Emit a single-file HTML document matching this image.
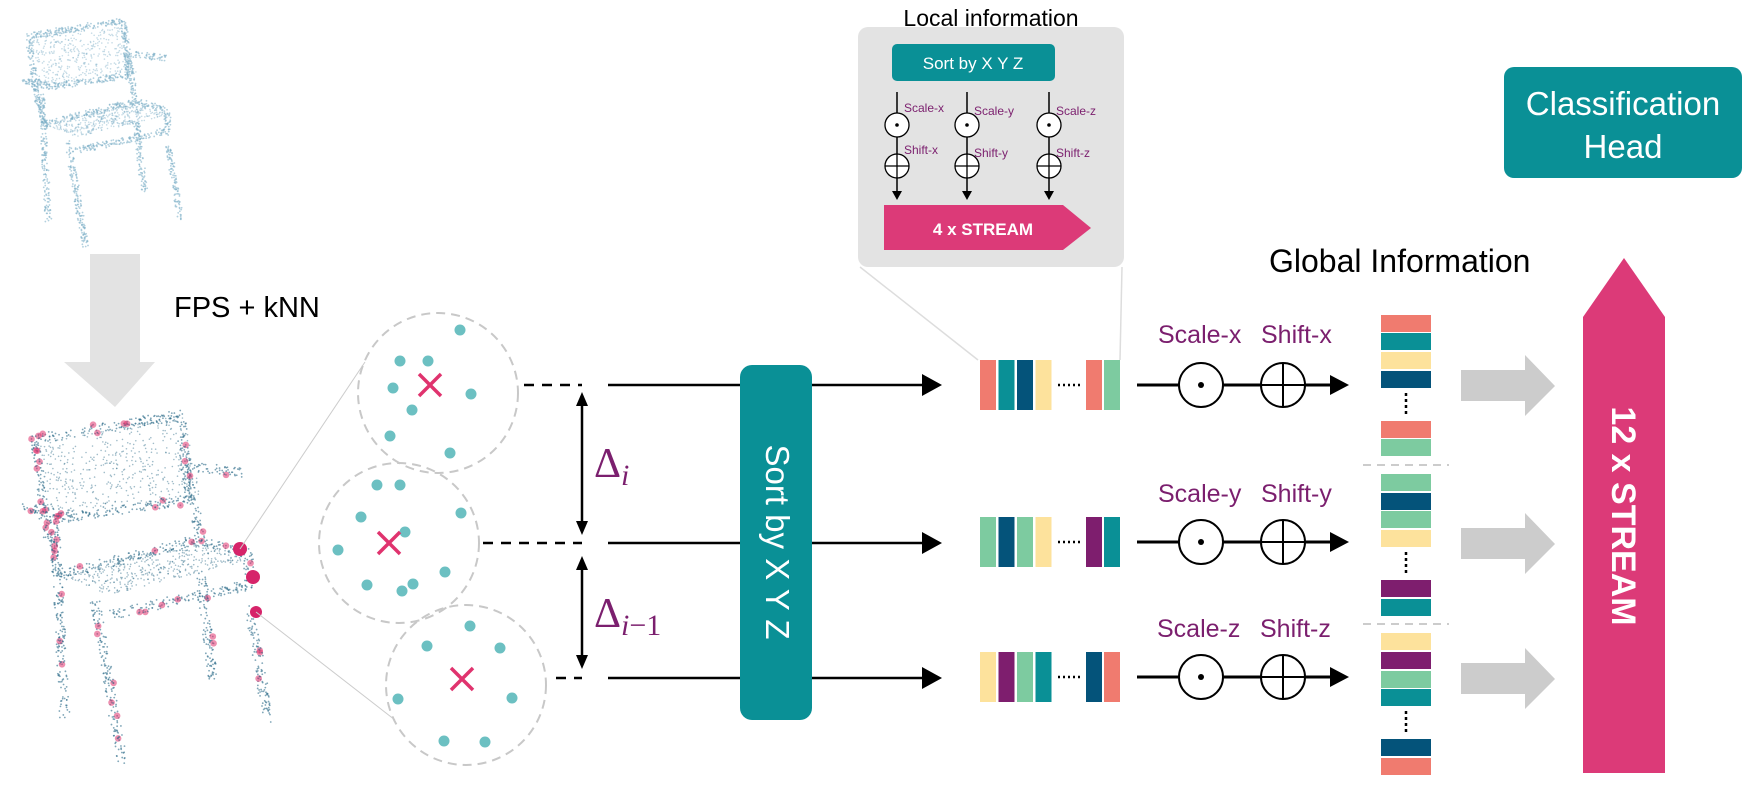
<!DOCTYPE html>
<html><head><meta charset="utf-8"><style>
html,body{margin:0;padding:0;background:#fff;}
svg{display:block;font-family:"Liberation Sans",sans-serif;}
</style></head><body>
<svg id="s" width="1762" height="796" viewBox="0 0 1762 796" xmlns="http://www.w3.org/2000/svg">
<g id="chairs"></g>
<polygon points="90,254 140,254 140,362 155,362 115,407 64,362 90,362" fill="#e3e3e3"/>
<text x="174" y="317" font-size="29" fill="#000">FPS + kNN</text>
<line x1="240" y1="549" x2="365" y2="362" stroke="#ccc" stroke-width="1"/>
<line x1="256" y1="612" x2="395" y2="720" stroke="#ccc" stroke-width="1"/>
<g fill="none" stroke="#c8c8c8" stroke-width="2" stroke-dasharray="9,6">
<circle cx="438" cy="393" r="80"/><circle cx="399" cy="543" r="80"/><circle cx="466" cy="685" r="80"/>
</g>
<g fill="#6cc0c2">
<circle cx="460" cy="330" r="5.5"/><circle cx="400" cy="361" r="5.5"/><circle cx="428" cy="361" r="5.5"/><circle cx="393" cy="388" r="5.5"/><circle cx="471" cy="394" r="5.5"/><circle cx="412" cy="410" r="5.5"/><circle cx="390" cy="436" r="5.5"/><circle cx="450" cy="453" r="5.5"/>
<circle cx="377" cy="485" r="5.5"/><circle cx="400" cy="485" r="5.5"/><circle cx="361" cy="517" r="5.5"/><circle cx="461" cy="513" r="5.5"/><circle cx="405" cy="532" r="5.5"/><circle cx="338" cy="550" r="5.5"/><circle cx="367" cy="585" r="5.5"/><circle cx="402" cy="591" r="5.5"/><circle cx="413" cy="584" r="5.5"/><circle cx="445" cy="572" r="5.5"/>
<circle cx="470" cy="626" r="5.5"/><circle cx="427" cy="646" r="5.5"/><circle cx="500" cy="648" r="5.5"/><circle cx="398" cy="699" r="5.5"/><circle cx="512" cy="698" r="5.5"/><circle cx="444" cy="741" r="5.5"/><circle cx="485" cy="742" r="5.5"/>
</g>
<g stroke="#e0336e" stroke-width="3.5">
<path d="M419,374 L441,396 M441,374 L419,396"/>
<path d="M378,532 L400,554 M400,532 L378,554"/>
<path d="M451,668 L473,690 M473,668 L451,690"/>
</g>
<g stroke="#000" stroke-width="2.5">
<line x1="524" y1="385" x2="582" y2="385" stroke-dasharray="10,8"/>
<line x1="483" y1="543" x2="582" y2="543" stroke-dasharray="10,8"/>
<line x1="556" y1="678" x2="582" y2="678" stroke-dasharray="10,8"/>
<line x1="608" y1="385" x2="925" y2="385"/>
<line x1="608" y1="543" x2="925" y2="543"/>
<line x1="608" y1="678" x2="925" y2="678"/>
<line x1="582" y1="404" x2="582" y2="523"/>
<line x1="582" y1="568" x2="582" y2="657"/>
</g>
<g fill="#000">
<polygon points="582,392 576,406 588,406"/><polygon points="582,535 576,521 588,521"/>
<polygon points="582,556 576,570 588,570"/><polygon points="582,669 576,655 588,655"/>
<polygon points="942,385 922,374 922,396"/><polygon points="942,543 922,532 922,554"/><polygon points="942,678 922,667 922,689"/>
</g>
<text x="594" y="477" font-size="42" fill="#7b1f6e" font-family="'Liberation Serif',serif">Δ<tspan font-size="30" font-style="italic" dy="8">i</tspan></text>
<text x="594" y="627" font-size="42" fill="#7b1f6e" font-family="'Liberation Serif',serif">Δ<tspan font-size="30" font-style="italic" dy="8">i</tspan><tspan font-size="30" dy="0">−1</tspan></text>
<rect x="740" y="365" width="72" height="355" rx="12" fill="#0a9096"/>
<text transform="translate(766,542) rotate(90)" font-size="33" fill="#fff" text-anchor="middle">Sort by X Y Z</text>
<line x1="860" y1="267" x2="978" y2="360" stroke="#ddd" stroke-width="1.5"/>
<line x1="1122" y1="267" x2="1120" y2="360" stroke="#ddd" stroke-width="1.5"/>
<rect x="858" y="27" width="266" height="240" rx="10" fill="#e3e3e3"/>
<text x="991" y="26" font-size="23" text-anchor="middle" fill="#000">Local information</text>
<rect x="892" y="44" width="163" height="37" rx="5" fill="#0a9096"/>
<text x="973" y="69" font-size="17" fill="#fff" text-anchor="middle">Sort by X Y Z</text>
<g id="mini"></g>
<polygon points="884,205 1063,205 1091,228 1063,250 884,250" fill="#dc3a78"/>
<text x="983" y="235" font-size="17" font-weight="bold" fill="#fff" text-anchor="middle">4 x STREAM</text>
<g id="tok"></g>
<text x="1269" y="272" font-size="32" fill="#000">Global Information</text>
<g fill="#7b1f6e" font-size="25">
<text x="1158" y="343">Scale-x</text><text x="1261" y="343">Shift-x</text>
<text x="1158" y="502">Scale-y</text><text x="1261" y="502">Shift-y</text>
<text x="1157" y="637">Scale-z</text><text x="1260" y="637">Shift-z</text>
</g>
<g fill="#cccccc">
<polygon points="1461,370 1525,370 1525,355 1555,386 1525,416 1525,401 1461,401"/>
<polygon points="1461,528 1525,528 1525,513 1555,544 1525,574 1525,559 1461,559"/>
<polygon points="1461,663 1525,663 1525,648 1555,679 1525,709 1525,694 1461,694"/>
</g>
<polygon points="1583,317 1624,258 1665,317 1665,773 1583,773" fill="#dc3a78"/>
<text transform="translate(1612,516) rotate(90)" font-size="34" font-weight="bold" fill="#fff" text-anchor="middle">12 x STREAM</text>
<rect x="1504" y="67" width="238" height="111" rx="10" fill="#0a9096"/>
<text x="1623" y="115" font-size="33" fill="#fff" text-anchor="middle">Classification</text>
<text x="1623" y="158" font-size="33" fill="#fff" text-anchor="middle">Head</text>
</svg>
<script>
var NS="http://www.w3.org/2000/svg";
function el(p,t,a){var e=document.createElementNS(NS,t);for(var k in a)e.setAttribute(k,a[k]);p.appendChild(e);return e;}
var C={s:'#f07b6f',t:'#0a9096',y:'#fde29c',n:'#04537a',g:'#7dcba0',p:'#7e1e6e'};
var tok=document.getElementById('tok');
var rows=[[360,'stny','sg'],[517,'gngy','pt'],[652,'ypgt','ns']];
rows.forEach(function(r){
  for(var i=0;i<4;i++) el(tok,'rect',{x:980+i*18.5,y:r[0],width:16,height:50,fill:C[r[1][i]]});
  for(var i=0;i<2;i++) el(tok,'rect',{x:1086+i*18,y:r[0],width:16,height:50,fill:C[r[2][i]]});
  var cy=r[0]+25;
  el(tok,'line',{x1:1058,y1:cy,x2:1082,y2:cy,stroke:'#000','stroke-width':2.5,'stroke-dasharray':'2,3'});
  el(tok,'line',{x1:1137,y1:cy,x2:1330,y2:cy,stroke:'#000','stroke-width':3});
  el(tok,'polygon',{points:'1349,'+cy+' 1330,'+(cy-10)+' 1330,'+(cy+10),fill:'#000'});
  el(tok,'circle',{cx:1201,cy:cy,r:22,fill:'#fff',stroke:'#000','stroke-width':2});
  el(tok,'circle',{cx:1201,cy:cy,r:3,fill:'#000'});
  el(tok,'circle',{cx:1283,cy:cy,r:22,fill:'#fff',stroke:'#000','stroke-width':2});
  el(tok,'path',{d:'M1261,'+cy+' H1305 M1283,'+(cy-22)+' V'+(cy+22),stroke:'#000','stroke-width':2});
});
var col=[[315,'s'],[333,'t'],[352,'y'],[371,'n'],[421,'s'],[439,'g'],[474,'g'],[493,'n'],[511,'g'],[530,'y'],[580,'p'],[599,'t'],[633,'y'],[652,'p'],[671,'g'],[689,'t'],[739,'n'],[758,'s']];
col.forEach(function(c){el(tok,'rect',{x:1381,y:c[0],width:50,height:17,fill:C[c[1]]});});
[[393,414],[552,573],[711,733]].forEach(function(d){el(tok,'line',{x1:1406,y1:d[0],x2:1406,y2:d[1],stroke:'#000','stroke-width':2.5,'stroke-dasharray':'3,3'});});
[465,624].forEach(function(y){el(tok,'line',{x1:1363,y1:y,x2:1449,y2:y,stroke:'#ccc','stroke-width':2,'stroke-dasharray':'8,6'});});
var mini=document.getElementById('mini');
[[897,'x',0],[967,'y',3],[1049,'z',3]].forEach(function(m){
  var x=m[0];
  el(mini,'line',{x1:x,y1:92,x2:x,y2:193,stroke:'#000','stroke-width':1.5});
  el(mini,'polygon',{points:x+',200 '+(x-5)+',191 '+(x+5)+',191',fill:'#000'});
  el(mini,'circle',{cx:x,cy:125,r:12,fill:'#fff',stroke:'#000','stroke-width':1.3});
  el(mini,'circle',{cx:x,cy:125,r:1.8,fill:'#000'});
  el(mini,'circle',{cx:x,cy:166,r:12,fill:'#fff',stroke:'#000','stroke-width':1.3});
  el(mini,'path',{d:'M'+(x-12)+',166 H'+(x+12)+' M'+x+',154 V178',stroke:'#000','stroke-width':1.3});
  var t=el(mini,'text',{x:x+7,y:112+m[2],'font-size':12,fill:'#7b1f6e'});t.textContent='Scale-'+m[1];
  var t2=el(mini,'text',{x:x+7,y:154+m[2],'font-size':12,fill:'#7b1f6e'});t2.textContent='Shift-'+m[1];
});
var seed=7;function rnd(){seed=(seed*16807)%2147483647;return seed/2147483647;}
var segs=[[35,440,180,415],[35,440,45,520],[180,415,190,500],[45,520,190,500],[22,507,60,512],[195,467,245,473],[60,575,200,540],[200,540,248,555],[110,615,250,585],[248,555,250,590],[55,530,65,720],[95,600,122,760],[200,570,213,680],[250,610,268,720],[45,520,60,575],[185,460,200,540]];
var ch=document.getElementById('chairs');
function cloud(ox,oy,sc,ox0,oy0,col,pink){
  function P(x,y,r,o){el(ch,'circle',{cx:ox+(x-ox0)*sc,cy:oy+(y-oy0)*sc,r:r,fill:col,opacity:o});}
  segs.forEach(function(s){
    var L=Math.hypot(s[2]-s[0],s[3]-s[1]);var n=Math.round(L*1.0);
    for(var i=0;i<n;i++){var t=rnd();var x=s[0]+(s[2]-s[0])*t+(rnd()-.5)*10,y=s[1]+(s[3]-s[1])*t+(rnd()-.5)*10;
      P(x,y,0.9,0.6);
      if(pink&&rnd()<0.03)el(ch,'circle',{cx:x,cy:y,r:3.3,fill:'#e0336e',opacity:0.55});}
  });
  for(var i=0;i<450;i++){var u=rnd(),v=rnd();P(35+u*150+v*15,440-u*25+v*80,0.8,0.45);}
  for(var i=0;i<400;i++){var u=rnd(),v=rnd();P(60+u*140+v*50,575-u*35-v*20+v*40,0.8,0.45);}
}
cloud(0,0,1,0,0,'#2c6a88',true);
cloud(17,17,0.65,17,410,'#7fb0c8',false);
[[240,549,7],[253,577,7],[256,612,6]].forEach(function(p){el(ch,'circle',{cx:p[0],cy:p[1],r:p[2],fill:'#d6246a'});});
</script>
</body></html>
